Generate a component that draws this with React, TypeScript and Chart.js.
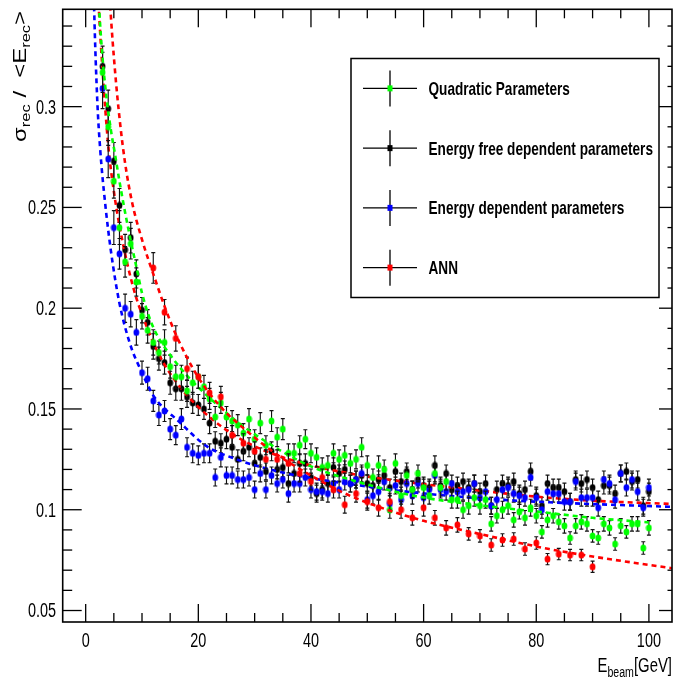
import React, { useEffect, useRef } from "react";
import { Chart, registerables } from "chart.js";

Chart.register(...registerables);

// ---------------- data ----------------
const energyGrid = [
  3, 4, 5, 6, 7, 8, 9, 10, 11, 12,
  13, 14, 15, 16, 17, 18, 19, 20, 21, 22,
  23, 24, 25, 26, 27, 28, 29, 30, 31, 32,
  33, 34, 35, 36, 37, 38, 39, 40, 41, 42,
  43, 44, 45, 46, 47, 48, 49, 50, 51, 52,
  53, 54, 55, 56, 57, 58, 59, 60, 61, 62,
  63, 64, 65, 66, 67, 68, 69, 70, 71, 72,
  73, 74, 75, 76, 77, 78, 79, 80, 81, 82,
  83, 84, 85, 86, 87, 88, 89, 90, 91, 92,
  93, 94, 95, 96, 97, 98, 99, 100,
];

// Quadratic Parameters (green)
const quadVals = [
  0.317, 0.290, 0.263, 0.240, 0.223, 0.232, 0.213, 0.196, 0.189, 0.183,
  0.178, 0.183, 0.171, 0.166, 0.166, 0.159, 0.163, 0.166, 0.161, 0.155,
  0.146, 0.153, 0.146, 0.144, 0.142, 0.138, 0.145, 0.135, 0.143, 0.132,
  0.144, 0.136, 0.140, 0.128, 0.128, 0.132, 0.135, 0.128, 0.126, 0.121,
  0.122, 0.128, 0.125, 0.127, 0.123, 0.125, 0.131, 0.122, 0.116, 0.122,
  0.120, 0.100, 0.123, 0.107, 0.117, 0.110, 0.118, 0.111, 0.107, 0.118,
  0.111, 0.114, 0.105, 0.105, 0.100, 0.102, 0.106, 0.102, 0.105, 0.093,
  0.097, 0.100, 0.102, 0.095, 0.099, 0.096, 0.101, 0.097, 0.089, 0.095,
  0.097, 0.094, 0.092, 0.086, 0.092, 0.094, 0.093, 0.087, 0.086, 0.093,
  0.091, 0.083, 0.092, 0.089, 0.093, 0.093, 0.081, 0.091,
];
const quadErrs = [
  0.0100, 0.0092, 0.0084, 0.0084, 0.0076, 0.0076, 0.0070, 0.0063, 0.0063, 0.0063,
  0.0057, 0.0063, 0.0057, 0.0057, 0.0057, 0.0052, 0.0057, 0.0057, 0.0057, 0.0052,
  0.0052, 0.0052, 0.0052, 0.0052, 0.0052, 0.0047, 0.0052, 0.0047, 0.0052, 0.0047,
  0.0052, 0.0047, 0.0052, 0.0047, 0.0047, 0.0047, 0.0047, 0.0047, 0.0047, 0.0047,
  0.0047, 0.0047, 0.0047, 0.0047, 0.0047, 0.0047, 0.0047, 0.0047, 0.0042, 0.0047,
  0.0047, 0.0042, 0.0047, 0.0042, 0.0042, 0.0042, 0.0042, 0.0042, 0.0042, 0.0042,
  0.0042, 0.0042, 0.0042, 0.0042, 0.0042, 0.0042, 0.0042, 0.0042, 0.0042, 0.0036,
  0.0036, 0.0042, 0.0042, 0.0036, 0.0036, 0.0036, 0.0042, 0.0036, 0.0031, 0.0036,
  0.0036, 0.0036, 0.0036, 0.0031, 0.0036, 0.0036, 0.0036, 0.0031, 0.0031, 0.0036,
  0.0036, 0.0031, 0.0036, 0.0031, 0.0036, 0.0036, 0.0031, 0.0036,
];

// Energy free dependent parameters (black)
const freeVals = [
  0.320, 0.299, 0.273, 0.251, 0.229, 0.235, 0.217, 0.199, 0.193, 0.181,
  0.175, 0.173, 0.163, 0.160, 0.160, 0.156, 0.153, 0.152, 0.150, 0.143,
  0.134, 0.133, 0.135, 0.131, 0.125, 0.129, 0.131, 0.123, 0.126, 0.119,
  0.129, 0.120, 0.121, 0.113, 0.118, 0.123, 0.123, 0.116, 0.108, 0.110,
  0.113, 0.121, 0.118, 0.120, 0.113, 0.115, 0.117, 0.113, 0.112, 0.115,
  0.117, 0.111, 0.119, 0.114, 0.119, 0.110, 0.115, 0.112, 0.111, 0.122,
  0.112, 0.118, 0.110, 0.112, 0.114, 0.111, 0.113, 0.109, 0.113, 0.102,
  0.110, 0.113, 0.112, 0.114, 0.108, 0.110, 0.119, 0.107, 0.102, 0.113,
  0.111, 0.111, 0.109, 0.104, 0.115, 0.113, 0.115, 0.111, 0.105, 0.112,
  0.112, 0.108, 0.118, 0.119, 0.114, 0.115, 0.102, 0.109,
];
const freeErrs = [
  0.0100, 0.0092, 0.0092, 0.0084, 0.0076, 0.0076, 0.0070, 0.0063, 0.0063, 0.0063,
  0.0057, 0.0057, 0.0057, 0.0057, 0.0057, 0.0052, 0.0052, 0.0052, 0.0052, 0.0052,
  0.0047, 0.0047, 0.0047, 0.0047, 0.0047, 0.0047, 0.0047, 0.0047, 0.0047, 0.0042,
  0.0047, 0.0047, 0.0047, 0.0042, 0.0042, 0.0047, 0.0047, 0.0042, 0.0042, 0.0042,
  0.0042, 0.0047, 0.0042, 0.0042, 0.0042, 0.0042, 0.0042, 0.0042, 0.0042, 0.0042,
  0.0042, 0.0042, 0.0042, 0.0042, 0.0042, 0.0042, 0.0042, 0.0042, 0.0042, 0.0047,
  0.0042, 0.0042, 0.0042, 0.0042, 0.0042, 0.0042, 0.0042, 0.0042, 0.0042, 0.0042,
  0.0042, 0.0042, 0.0042, 0.0042, 0.0042, 0.0042, 0.0042, 0.0042, 0.0042, 0.0042,
  0.0042, 0.0042, 0.0042, 0.0042, 0.0042, 0.0042, 0.0042, 0.0042, 0.0042, 0.0042,
  0.0042, 0.0042, 0.0042, 0.0042, 0.0042, 0.0042, 0.0042, 0.0042,
];

// Energy dependent parameters (blue)
const depVals = [
  0.309, 0.274, 0.240, 0.227, 0.200, 0.197, 0.188, 0.168, 0.165, 0.154,
  0.147, 0.149, 0.140, 0.137, 0.145, 0.131, 0.128, 0.127, 0.128, 0.128,
  0.116, 0.126, 0.117, 0.117, 0.115, 0.115, 0.116, 0.110, 0.118, 0.110,
  0.117, 0.113, 0.115, 0.108, 0.113, 0.113, 0.116, 0.110, 0.109, 0.109,
  0.108, 0.113, 0.110, 0.114, 0.113, 0.115, 0.118, 0.105, 0.107, 0.109,
  0.114, 0.103, 0.112, 0.105, 0.113, 0.107, 0.113, 0.106, 0.110, 0.117,
  0.110, 0.109, 0.113, 0.109, 0.109, 0.110, 0.113, 0.106, 0.109, 0.102,
  0.105, 0.110, 0.111, 0.108, 0.107, 0.106, 0.116, 0.106, 0.100, 0.109,
  0.108, 0.108, 0.104, 0.104, 0.114, 0.106, 0.106, 0.106, 0.101, 0.115,
  0.113, 0.105, 0.118, 0.111, 0.115, 0.109, 0.101, 0.111,
];
const depErrs = [
  0.0100, 0.0092, 0.0084, 0.0076, 0.0070, 0.0063, 0.0063, 0.0057, 0.0057, 0.0052,
  0.0052, 0.0052, 0.0052, 0.0047, 0.0052, 0.0047, 0.0047, 0.0047, 0.0047, 0.0047,
  0.0042, 0.0047, 0.0042, 0.0042, 0.0042, 0.0042, 0.0042, 0.0042, 0.0042, 0.0042,
  0.0042, 0.0042, 0.0042, 0.0042, 0.0042, 0.0042, 0.0042, 0.0042, 0.0042, 0.0042,
  0.0042, 0.0042, 0.0042, 0.0042, 0.0042, 0.0042, 0.0042, 0.0042, 0.0042, 0.0042,
  0.0042, 0.0042, 0.0042, 0.0042, 0.0042, 0.0042, 0.0042, 0.0042, 0.0042, 0.0042,
  0.0042, 0.0042, 0.0042, 0.0042, 0.0042, 0.0042, 0.0042, 0.0042, 0.0042, 0.0042,
  0.0042, 0.0042, 0.0042, 0.0042, 0.0042, 0.0042, 0.0042, 0.0042, 0.0042, 0.0042,
  0.0042, 0.0042, 0.0042, 0.0042, 0.0042, 0.0042, 0.0042, 0.0042, 0.0042, 0.0042,
  0.0042, 0.0042, 0.0042, 0.0042, 0.0042, 0.0042, 0.0042, 0.0042,
];

// ANN (red)
const annEnergies = [
  12, 14, 16, 18, 20, 22, 24, 26, 28, 30,
  32, 34, 36, 38, 40, 42, 44, 46, 48, 50,
  52, 54, 56, 58, 60, 62, 64, 66, 68, 70,
  72, 74, 76, 78, 80, 82, 84, 86, 88, 90,
];
const annVals = [
  0.220, 0.198, 0.185, 0.170, 0.166, 0.158, 0.156, 0.137, 0.133, 0.129,
  0.125, 0.125, 0.123, 0.118, 0.114, 0.116, 0.110, 0.1025, 0.108, 0.104,
  0.101, 0.104, 0.100, 0.096, 0.101, 0.096, 0.091, 0.0925, 0.088, 0.087,
  0.0825, 0.085, 0.0855, 0.0805, 0.0835, 0.0755, 0.078, 0.0775, 0.0775, 0.0717,
];
const annErrs = [
  0.0076, 0.0063, 0.0063, 0.0057, 0.0057, 0.0052, 0.0052, 0.0047, 0.0047, 0.0047,
  0.0047, 0.0047, 0.0047, 0.0042, 0.0042, 0.0042, 0.0042, 0.0042, 0.0042, 0.0042,
  0.0042, 0.0042, 0.0042, 0.0036, 0.0042, 0.0036, 0.0036, 0.0036, 0.0031, 0.0031,
  0.0031, 0.0031, 0.0031, 0.0031, 0.0031, 0.0028, 0.0028, 0.0028, 0.0028, 0.0028,
];

// fitted curves
const quadFitE = [2.2, 2.41, 3, 3.72, 4.5, 5.2, 6, 7, 8, 9, 10, 11.1, 12, 13, 15.5, 18, 21.4, 24, 27.4, 30, 34.2, 40, 47.5, 58.7, 69.3, 82.3, 90, 100];
const quadFitV = [0.36, 0.348, 0.324, 0.304, 0.288, 0.2765, 0.263, 0.2475, 0.2335, 0.2205, 0.2075, 0.197, 0.1905, 0.185, 0.175, 0.1665, 0.157, 0.1505, 0.1425, 0.1375, 0.13, 0.1215, 0.1145, 0.1067, 0.1025, 0.0984, 0.096, 0.0937];

const freeFitE = [2.1, 2.35, 3, 4, 5, 6, 7, 8, 9, 10, 12, 14, 17, 20, 25, 30, 35, 40, 45, 50, 60, 70, 80, 90, 104.5];
const freeFitV = [0.365, 0.348, 0.318, 0.281, 0.258, 0.241, 0.227, 0.215, 0.205, 0.197, 0.183, 0.172, 0.16, 0.151, 0.1395, 0.1315, 0.126, 0.122, 0.119, 0.1165, 0.1127, 0.1095, 0.1065, 0.1045, 0.1028];

const depFitE = [1.2, 1.5, 2.06, 2.6, 3.42, 4.5, 5.96, 7.85, 10, 12, 16.7, 21.4, 26.8, 33.9, 38.6, 47.5, 56.3, 69.3, 82.3, 104.5];
const depFitV = [0.39, 0.349, 0.303, 0.278, 0.253, 0.228, 0.203, 0.1825, 0.168, 0.1567, 0.1434, 0.1317, 0.125, 0.1192, 0.1164, 0.1125, 0.1092, 0.1058, 0.1037, 0.1014];

const annFitE = [4.0, 4.4, 5.2, 6.1, 7.0, 8.2, 10, 12, 14, 16, 19.7, 23.8, 28, 33.9, 40, 45.7, 50, 56.3, 60, 69.3, 82.3, 90, 104.5];
const annFitV = [0.368, 0.348, 0.318, 0.292, 0.272, 0.253, 0.234, 0.217, 0.201, 0.187, 0.167, 0.1515, 0.1405, 0.1275, 0.117, 0.1085, 0.1035, 0.0975, 0.0945, 0.0884, 0.0805, 0.0768, 0.0708];

// axes
const X_MIN = -4.08;
const X_MAX = 104.1;
const Y_MIN = 0.0443;
const Y_MAX = 0.3483;
const xMajorTicks = [0, 20, 40, 60, 80, 100];
const xTickLabels = ["0", "20", "40", "60", "80", "100"];
const xMinorTicks = [5, 10, 15, 25, 30, 35, 45, 50, 55, 65, 70, 75, 85, 90, 95];
const yMajorTicks = [0.05, 0.1, 0.15, 0.2, 0.25, 0.3];
const yTickLabels = ["0.05", "0.1", "0.15", "0.2", "0.25", "0.3"];
const yMinorTicks = [
  0.06, 0.07, 0.08, 0.09, 0.11, 0.12, 0.13, 0.14, 0.16, 0.17, 0.18, 0.19,
  0.21, 0.22, 0.23, 0.24, 0.26, 0.27, 0.28, 0.29, 0.31, 0.32, 0.33, 0.34,
];

const legendLabels = [
  "Quadratic Parameters",
  "Energy free dependent parameters",
  "Energy dependent parameters",
  "ANN",
];
const legendColors = ["#00ff00", "#000000", "#0000ff", "#ff0000"];

// ---------------- drawing helpers ----------------
const FONT = '"Liberation Sans", Arial, Helvetica, sans-serif';
const SX = 0.85;
const SY = 1.137;

function pts(xs: number[], ys: number[]) {
  return xs.map((x, i) => ({ x, y: ys[i] }));
}

function makeMarker(color: string) {
  const c = document.createElement("canvas");
  c.width = 7;
  c.height = 8;
  const g = c.getContext("2d")!;
  g.fillStyle = color;
  g.beginPath();
  g.ellipse(3.5, 4, 2.9, 3.5, 0, 0, Math.PI * 2);
  g.fill();
  return c;
}

function drawText(ctx: CanvasRenderingContext2D, text: string, x: number, y: number, size: number, weight: string, align: CanvasTextAlign) {
  ctx.save();
  ctx.translate(x, y);
  ctx.scale(SX, SY);
  ctx.font = `${weight} ${size}px ${FONT}`;
  ctx.textAlign = align;
  ctx.textBaseline = "alphabetic";
  ctx.fillStyle = "#000";
  ctx.fillText(text, 0, 0);
  ctx.restore();
}

type Seg = { t: string; size: number; dy: number };
function drawRich(ctx: CanvasRenderingContext2D, segs: Seg[], x: number, y: number, rotated: boolean) {
  ctx.save();
  ctx.translate(x, y);
  if (rotated) {
    ctx.rotate(-Math.PI / 2);
    ctx.scale(SY, SX);
  } else {
    ctx.scale(SX, SY);
  }
  ctx.textAlign = "left";
  ctx.textBaseline = "alphabetic";
  ctx.fillStyle = "#000";
  let w = 0;
  const widths: number[] = [];
  for (const s of segs) {
    ctx.font = `${s.size}px ${FONT}`;
    const m = ctx.measureText(s.t).width;
    widths.push(m);
    w += m;
  }
  let cx = -w; // right aligned at origin
  segs.forEach((s, i) => {
    ctx.font = `${s.size}px ${FONT}`;
    ctx.fillText(s.t, cx, s.dy);
    cx += widths[i];
  });
  ctx.restore();
}

const errorBarPlugin = {
  id: "errorBars",
  beforeDatasetDraw(chart: any, args: any) {
    const ds = chart.data.datasets[args.index];
    const errs: number[] | undefined = ds.errorBars;
    if (!errs) return;
    const { ctx, chartArea: a } = chart;
    const xs = chart.scales.x;
    const ys = chart.scales.y;
    ctx.save();
    ctx.beginPath();
    ctx.rect(a.left, a.top, a.right - a.left, a.bottom - a.top);
    ctx.clip();
    ctx.strokeStyle = "#111";
    ctx.lineWidth = 1.15;
    ds.data.forEach((p: any, i: number) => {
      const x = xs.getPixelForValue(p.x);
      const y1 = ys.getPixelForValue(p.y + errs[i]);
      const y2 = ys.getPixelForValue(p.y - errs[i]);
      ctx.beginPath();
      ctx.moveTo(x, y1);
      ctx.lineTo(x, y2);
      ctx.moveTo(x - 2, y1);
      ctx.lineTo(x + 2, y1);
      ctx.moveTo(x - 2, y2);
      ctx.lineTo(x + 2, y2);
      ctx.stroke();
    });
    ctx.restore();
  },
};

const rootStylePlugin = {
  id: "rootStyle",
  beforeDatasetsDraw(chart: any) {
    const { ctx, chartArea: a } = chart;
    const xs = chart.scales.x;
    const ys = chart.scales.y;
    ctx.save();
    ctx.strokeStyle = "#000";
    ctx.lineWidth = 1.3;
    const line = (x1: number, y1: number, x2: number, y2: number) => {
      ctx.beginPath();
      ctx.moveTo(x1, y1);
      ctx.lineTo(x2, y2);
      ctx.stroke();
    };
    for (const v of xMajorTicks) {
      const x = xs.getPixelForValue(v);
      line(x, a.bottom, x, a.bottom - 18);
      line(x, a.top, x, a.top + 18);
    }
    for (const v of xMinorTicks) {
      const x = xs.getPixelForValue(v);
      line(x, a.bottom, x, a.bottom - 9);
      line(x, a.top, x, a.top + 9);
    }
    for (const v of yMajorTicks) {
      const y = ys.getPixelForValue(v);
      line(a.left, y, a.left + 19, y);
      line(a.right, y, a.right - 13, y);
    }
    for (const v of yMinorTicks) {
      const y = ys.getPixelForValue(v);
      line(a.left, y, a.left + 9.5, y);
      line(a.right, y, a.right - 4.5, y);
    }
    ctx.restore();
  },
  afterDatasetsDraw(chart: any) {
    const { ctx, chartArea: a } = chart;
    const xs = chart.scales.x;
    const ys = chart.scales.y;
    ctx.save();
    // frame
    ctx.strokeStyle = "#000";
    ctx.lineWidth = 1.6;
    ctx.strokeRect(a.left, a.top, a.right - a.left, a.bottom - a.top);

    // tick labels
    const labelSize = 17;
    xMajorTicks.forEach((v, i) => {
      drawText(ctx, xTickLabels[i], xs.getPixelForValue(v), 647, labelSize, "normal", "center");
    });
    const digitH = 0.716 * labelSize * SY;
    yMajorTicks.forEach((v, i) => {
      drawText(ctx, yTickLabels[i], 56, ys.getPixelForValue(v) + digitH / 2, labelSize, "normal", "right");
    });

    // axis titles
    drawRich(
      ctx,
      [
        { t: "E", size: 17.5, dy: 0 },
        { t: "beam", size: 12.5, dy: 4.5 },
        { t: "[GeV]", size: 17.5, dy: 0 },
      ],
      672,
      672,
      false
    );
    drawRich(
      ctx,
      [
        { t: "σ", size: 21, dy: 0 },
        { t: "rec", size: 14.5, dy: 5 },
        { t: " /  <E", size: 21, dy: 0 },
        { t: "rec", size: 14.5, dy: 5 },
        { t: ">", size: 21, dy: 0 },
      ],
      25.5,
      11,
      true
    );

    // legend
    const lx1 = 351, lx2 = 659, ly1 = 58.5, ly2 = 297.5;
    ctx.fillStyle = "#fff";
    ctx.fillRect(lx1, ly1, lx2 - lx1, ly2 - ly1);
    ctx.strokeStyle = "#000";
    ctx.lineWidth = 1.5;
    ctx.strokeRect(lx1, ly1, lx2 - lx1, ly2 - ly1);
    const rowH = (ly2 - ly1) / legendLabels.length;
    legendLabels.forEach((lab, i) => {
      const cy = ly1 + rowH * (i + 0.5);
      ctx.strokeStyle = "#000";
      ctx.lineWidth = 1.3;
      ctx.beginPath();
      ctx.moveTo(363, cy);
      ctx.lineTo(417, cy);
      ctx.moveTo(390, cy - 18);
      ctx.lineTo(390, cy + 18);
      ctx.stroke();
      ctx.fillStyle = legendColors[i];
      ctx.fillRect(387.5, cy - 3, 5, 6);
      drawText(ctx, lab, 428.5, cy + (0.716 * 16 * SY) / 2, 16, "bold", "left");
    });
    ctx.restore();
  },
};

export default function App() {
  const ref = useRef<HTMLCanvasElement>(null);
  useEffect(() => {
    const canvas = ref.current!;
    const green = makeMarker("#00ff00");
    const black = makeMarker("#000000");
    const blue = makeMarker("#0000ff");
    const red = makeMarker("#ff0000");

    const pointSet = (label: string, xsArr: number[], ysArr: number[], errs: number[], marker: HTMLCanvasElement, order: number) => ({
      type: "scatter" as const,
      label,
      data: pts(xsArr, ysArr),
      errorBars: errs,
      pointStyle: marker,
      pointRadius: 3,
      showLine: false,
      order,
    });
    const fitSet = (label: string, xsArr: number[], ysArr: number[], color: string, order: number) => ({
      type: "line" as const,
      label,
      data: pts(xsArr, ysArr),
      borderColor: color,
      borderWidth: 2.6,
      borderDash: [5, 4],
      pointRadius: 0,
      fill: false,
      cubicInterpolationMode: "monotone" as const,
      order,
    });

    const chart = new Chart(canvas, {
      type: "scatter",
      data: {
        datasets: [
          pointSet("Energy free dependent parameters", energyGrid, freeVals, freeErrs, black, 8),
          fitSet("free fit", freeFitE, freeFitV, "#ff0000", 7),
          pointSet("Energy dependent parameters", energyGrid, depVals, depErrs, blue, 6),
          fitSet("dep fit", depFitE, depFitV, "#0000ff", 5),
          pointSet("Quadratic Parameters", energyGrid, quadVals, quadErrs, green, 4),
          fitSet("quad fit", quadFitE, quadFitV, "#00ff00", 3),
          pointSet("ANN", annEnergies, annVals, annErrs, red, 2),
          fitSet("ann fit", annFitE, annFitV, "#ff0000", 1),
        ] as any,
      },
      options: {
        responsive: false,
        animation: false,
        devicePixelRatio: 1,
        events: [],
        layout: { padding: { left: 0, top: 9.3, right: 7, bottom: 0 } },
        plugins: { legend: { display: false }, tooltip: { enabled: false } },
        scales: {
          x: {
            type: "linear",
            min: X_MIN,
            max: X_MAX,
            grid: { display: false },
            border: { display: false },
            ticks: { display: false },
            afterFit: (s: any) => {
              s.height = 60;
            },
          },
          y: {
            type: "linear",
            min: Y_MIN,
            max: Y_MAX,
            grid: { display: false },
            border: { display: false },
            ticks: { display: false },
            afterFit: (s: any) => {
              s.width = 62.7;
            },
          },
        },
      } as any,
      plugins: [errorBarPlugin, rootStylePlugin],
    });
    return () => chart.destroy();
  }, []);

  return (
    <div style={{ position: "absolute", left: 0, top: 0, width: 679, height: 682, background: "#fff" }}>
      <canvas ref={ref} width={679} height={682} style={{ display: "block" }} />
    </div>
  );
}
